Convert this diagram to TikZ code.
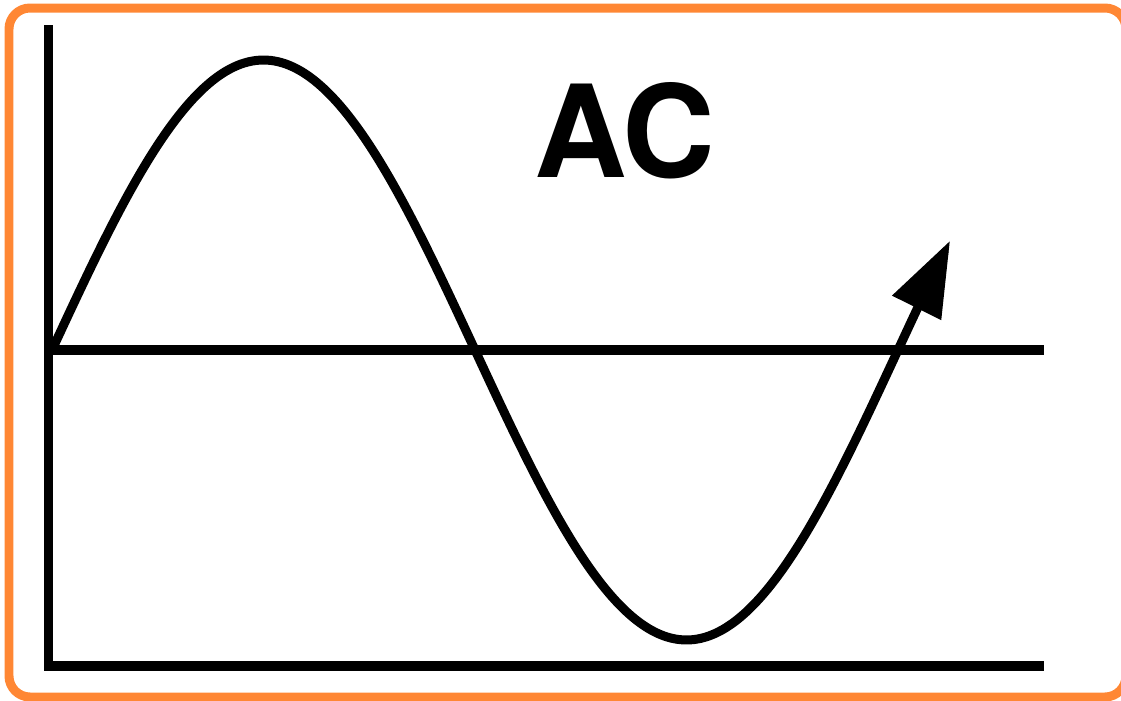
\documentclass[tikz,border=0pt]{standalone}
\usepackage{fontspec}
\setsansfont{TeX Gyre Heros}
\usetikzlibrary{arrows.meta}
\definecolor{acOrange}{RGB}{255, 135, 52}
\tikzset{
    frameBox/.style={line width=0.18cm, acOrange, rounded corners=0.42cm},
    acAxis/.style={line width=0.2cm, black},
    waveLine/.style={line width=0.18cm, black, line join=round,
        -{Triangle[length=1.5cm, width=1.05cm]}},
}

\begin{document}
\begin{tikzpicture}[x=0.02cm, y=-0.02cm]

    \useasboundingbox (0,0) rectangle (1121,700);

    % FRAME
    \draw[frameBox] (9,8) rectangle (1126,697);

    % AXES
    \coordinate (axisTop) at (48.5,25);
    \coordinate (origin) at (48.5,666);
    \coordinate (axisEnd) at (1044,666);
    \coordinate (zeroStart) at (48.5,350);
    \coordinate (zeroEnd) at (1044,350);
    \draw[acAxis] (axisTop) -- (origin) -- (axisEnd);
    \draw[acAxis] (zeroStart) -- (zeroEnd);

    % WAVE
    \draw[waveLine] plot[domain=0:6.67, samples=120, smooth]
        ({52+423*\x/pi}, {350-290*sin(\x r)});

    % LABEL
    \node[anchor=base, inner sep=0pt, font=\sffamily\bfseries\fontsize{73}{80}\selectfont]
        (acLabel) at (624.5,177) {AC};

\end{tikzpicture}
\end{document}
